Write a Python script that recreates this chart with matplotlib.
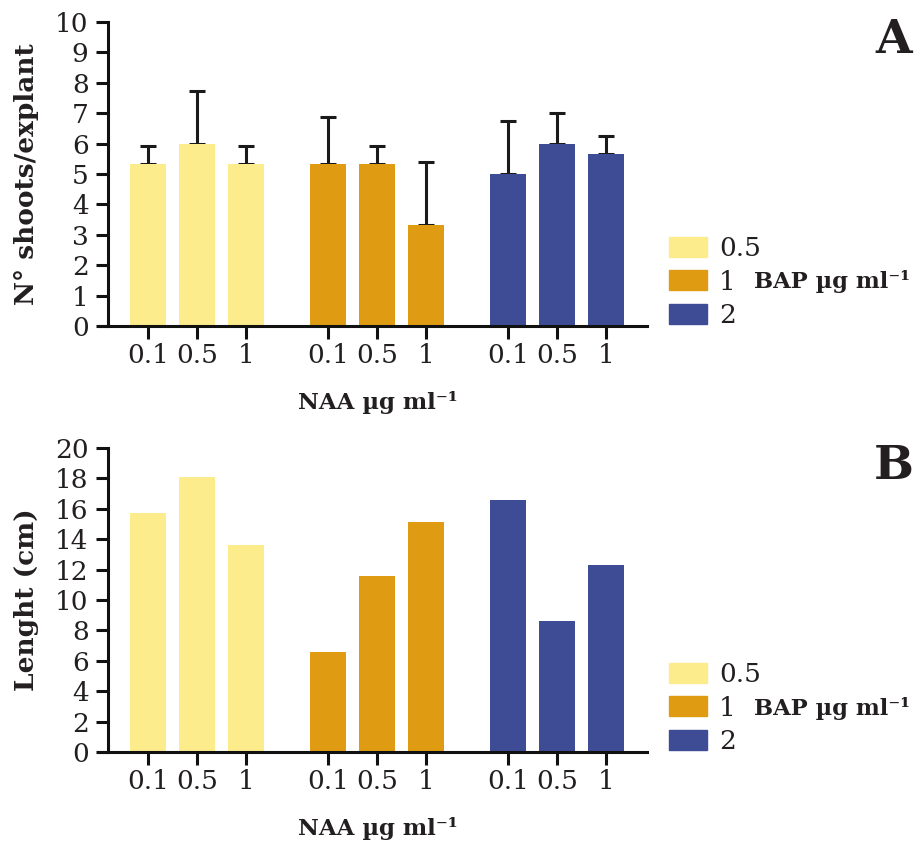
import matplotlib
matplotlib.use("Agg")
import matplotlib.pyplot as plt
import matplotlib.patches as mpatches
import numpy as np

plt.rcParams['font.family'] = 'DejaVu Serif'

# dados
naa = ["0.1", "0.5", "1"]
bap = ["0.5", "1", "2"]
cores = ["#fdec8b", "#df9c13", "#3e4c96"]

brotos = [[5.33, 6.0, 5.33], [5.33, 5.33, 3.33], [5.0, 6.0, 5.67]]
brotos_erro = [[0.58, 1.73, 0.58], [1.53, 0.58, 2.08], [1.73, 1.0, 0.58]]
comprimento = [[15.7, 18.1, 13.6], [6.6, 11.6, 15.1], [16.6, 8.6, 12.3]]

texto = "#231f20"
W, H = 915, 841
fig = plt.figure(figsize=(W / 100, H / 100), dpi=100)

gap = 3.67  # distancia entre grupos
pos = [g * gap + np.arange(3) for g in range(3)]


def painel(top, bottom, valores, erros, ymax, ystep, ylabel, letra):
    alt = bottom - top
    ax = fig.add_axes([99 / W, (H - bottom) / H, (647 - 99) / W, alt / H])
    for g in range(3):
        ax.bar(pos[g], valores[g], width=0.74, color=cores[g], zorder=2)
        if erros is not None:
            ax.errorbar(pos[g], valores[g], yerr=[np.zeros(3), erros[g]], fmt="none",
                        ecolor="#1a1a1a", elinewidth=2.2, capsize=6, capthick=2.2, zorder=1)
    ax.set_xlim(-1.0, 10.18)
    ax.set_ylim(0, ymax)
    ax.set_yticks(np.arange(0, ymax + 0.1, ystep))
    ax.set_xticks(np.concatenate(pos))
    ax.set_xticklabels(naa * 3)
    for s in ["top", "right"]:
        ax.spines[s].set_visible(False)
    ax.spines["left"].set_position(("data", -0.816))
    for s in ["left", "bottom"]:
        ax.spines[s].set_linewidth(2.2)
        ax.spines[s].set_color("#111111")
    ax.tick_params(width=2.2, length=9, color="#111111", labelsize=19, labelcolor=texto)
    ax.tick_params(axis="x", pad=3)
    ax.tick_params(axis="y", pad=5)
    ax.set_ylabel(ylabel, fontsize=19, fontweight="bold", color=texto)
    ax.yaxis.set_label_coords((27 - 99) / (647 - 99), 0.5)
    ax.yaxis.label.set_va("center")
    ax.set_xlabel("NAA µg ml⁻¹", fontsize=16.5, fontweight="bold", color=texto)
    ax.xaxis.set_label_coords((378 - 99) / (647 - 99), -76 / alt)
    ax.xaxis.label.set_va("center")
    # letra do painel
    fig.text(894 / W, 1 - (top + 18) / H, letra, fontsize=34, fontweight="bold",
             color=texto, ha="center", va="center")
    # legenda
    handles = [mpatches.Patch(color=c, label=b) for c, b in zip(cores, bap)]
    leg = fig.legend(handles=handles, loc="center left",
                     bbox_to_anchor=(656 / W, 1 - (bottom - 44) / H),
                     frameon=False, fontsize=19, handlelength=1.44, handleheight=0.8,
                     labelspacing=0.33, handletextpad=0.45, borderpad=0)
    for t in leg.get_texts():
        t.set_color(texto)
    fig.text(754 / W, 1 - (bottom - 44) / H, "BAP µg ml⁻¹", fontsize=16.3,
             fontweight="bold", color=texto, ha="left", va="center")
    return ax


painel(22, 326, brotos, brotos_erro, 10, 1, "N° shoots/explant", "A")
painel(448, 752, comprimento, None, 20, 2, "Lenght (cm)", "B")

fig.savefig("out.png", dpi=100)
